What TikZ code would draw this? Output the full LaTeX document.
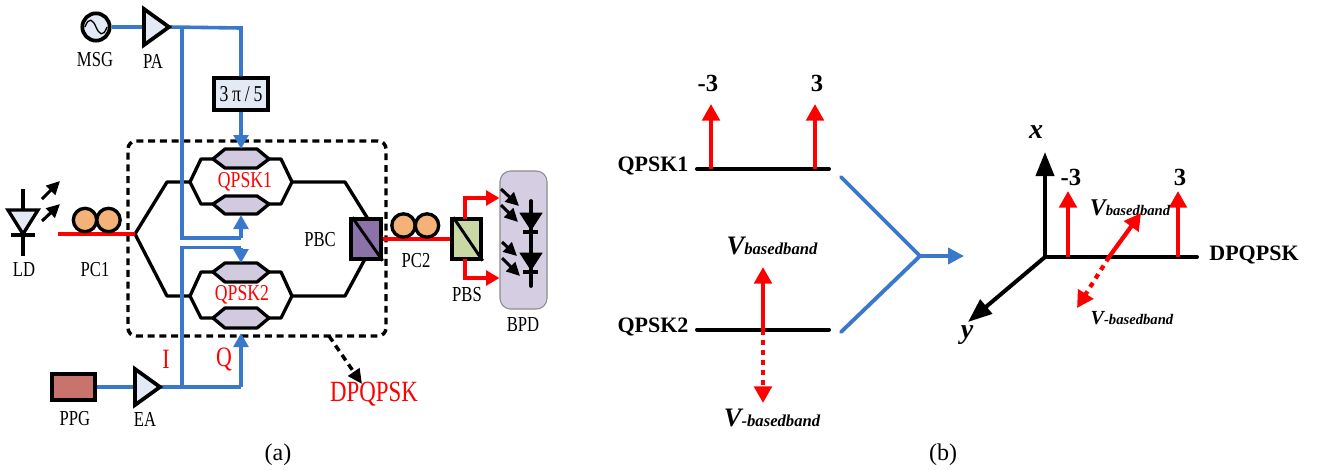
\documentclass[tikz,border=0pt]{standalone}
\usepackage{fontspec}
\setmainfont{Liberation Serif}
\newfontfamily\cnfont[FakeStretch=0.78]{Liberation Serif}
\usetikzlibrary{arrows.meta}
\definecolor{cblue}{HTML}{3A78CC}
\definecolor{cfill}{HTML}{E4EAF5}
\definecolor{cppg}{HTML}{C8736B}
\definecolor{corange}{HTML}{F4B279}
\definecolor{cmzm}{HTML}{D2CBDF}
\definecolor{cpbc}{HTML}{8B72A8}
\definecolor{cpbs}{HTML}{C9D9A6}
\definecolor{cbpd}{HTML}{D5CEE2}
\newcommand{\fs}[1]{\fontsize{#1}{#1}\selectfont}
\newcommand{\vlab}[3]{{\fs{#1}\bfseries\itshape V\fs{#2}#3}}
\tikzset{
  px/.style={x=0.75pt,y=-0.75pt},
  wire/.style={line width=2.5pt,black,line join=round},
  bl/.style={line width=2.7pt,cblue},
  blarrow/.style={bl,-{Triangle[length=10.5pt,width=11pt]}},
  rd/.style={line width=2.9pt,red},
  rdarrow/.style={line width=3.2pt,red,-{Triangle[length=12.5pt,width=13pt]}},
  rdmid/.style={line width=2.9pt,red,-{Triangle[length=10pt,width=11pt]}},
  rddash/.style={rdarrow,dash pattern=on 3.8pt off 3.8pt},
  bkarrow/.style={line width=2.3pt,black,-{Triangle[length=10pt,width=9.5pt]}},
  bkaxis/.style={line width=3pt,black,-{Triangle[length=18pt,width=13.5pt]}},
  boxed/.style={draw=black,line width=2.6pt,inner sep=0pt,line join=miter},
  pol/.style={circle,draw=black,line width=2.5pt,fill=corange,minimum size=17.5pt,inner sep=0pt},
  lab/.style={font=\cnfont\fs{16}\selectfont,black,inner sep=0pt},
  rlab/.style={font=\cnfont\fs{17}\selectfont,red,inner sep=0pt},
  hex/.style={draw=black,line width=2.5pt,fill=cmzm,line join=round},
  tri/.style={draw=black,line width=2.8pt,fill=cfill,line join=miter},
  headtxt/.style={font=\bfseries\fs{16.5}\selectfont,black,inner sep=0pt},
  numtxt/.style={font=\bfseries\fs{18.5}\selectfont,black,inner sep=0pt},
  captxt/.style={font=\fs{18}\selectfont,black,inner sep=0pt},
  free/.style={inner sep=0pt}
}
\begin{document}
\begin{tikzpicture}[px]
\useasboundingbox (0,0) rectangle (1320,469);

% ---------- panel (a): dashed frame
\node[free,draw=black,line width=2.6pt,dash pattern=on 5.2pt off 3.6pt,rounded corners=6pt,
      minimum width=193.5pt,minimum height=146.25pt] (frame) at (257,238.5) {};

% sources
\node[circle,draw=black,line width=2.8pt,fill=cfill,minimum size=20.5pt,inner sep=0pt] (msg) at (96,27) {};
\draw[line width=1pt] (85,27) .. controls (89,16) and (93,20) .. (96,27) .. controls (99,34) and (103,38) .. (107,27);
\coordinate (paL) at (144,27);\coordinate (paT) at (169,27);
\coordinate (eaL) at (135,387);\coordinate (eaT) at (160,387);
\coordinate (j1) at (182,28);\coordinate (j2) at (241,28);
\coordinate (j3) at (182,238);\coordinate (j4) at (241,238);
\coordinate (j5) at (182,387);\coordinate (j6) at (241,387);
\coordinate (j7) at (182,247.5);\coordinate (j8) at (241,247.5);
\coordinate (m1t) at (241,149);\coordinate (m1b) at (241,215);
\coordinate (m2t) at (241,263);\coordinate (m2b) at (241,333);
\node[boxed,fill=cfill,minimum width=40.5pt,minimum height=24pt,font=\cnfont\fs{17}\selectfont] (ps) at (241,94) {3\,π\,/\,5};
\node[boxed,fill=cppg,minimum width=32.25pt,minimum height=19.5pt] (ppg) at (73.5,387) {};

% black waveguides
\coordinate (split) at (135,234);
\coordinate (u1) at (167,182);\coordinate (u2) at (190,182);
\coordinate (l1) at (167,296);\coordinate (l2) at (190,296);
\coordinate (u3) at (292,182);\coordinate (u4) at (345,182);
\coordinate (l3) at (292,296);\coordinate (l4) at (345,296);
\node[boxed,fill=cpbc,minimum width=22.5pt,minimum height=30pt] (pbc) at (366,239) {};
\node[boxed,fill=cpbs,minimum width=21.75pt,minimum height=30pt] (pbs) at (466.5,239) {};
\draw[wire] (split) -- (u1) -- (u2);
\draw[wire] (split) -- (l1) -- (l2);
\draw[wire] (u3) -- (u4) -- (368,219);
\draw[wire] (l3) -- (l4) -- (365,259);
% MZMs
\draw[wire] (u2) -- (201,159) -- (281,159) -- (u3) -- (281,204) -- (201,204) -- cycle;
\draw[hex] (213,159) -- (225,149) -- (257,149) -- (269,159) -- (257,168) -- (225,168) -- cycle;
\draw[hex] (213,204) -- (225,196) -- (257,196) -- (269,204) -- (257,214) -- (225,214) -- cycle;
\draw[wire] (l2) -- (201,272) -- (281,272) -- (l3) -- (281,318) -- (201,318) -- cycle;
\draw[hex] (213,272) -- (225,263) -- (257,263) -- (269,272) -- (257,282) -- (225,282) -- cycle;
\draw[hex] (213,318) -- (225,308) -- (257,308) -- (269,318) -- (257,328) -- (225,328) -- cycle;
\draw[line width=2.2pt] (pbc.north west) ++(3,0) -- (pbc.south east);
\draw[line width=2.2pt] (pbs.north west) ++(3,0) -- (pbs.south east);

% blue electrical
\draw[bl] (msg) -- (paL);
\draw[bl] (paT) -- (j2) -- (ps);
\draw[bl] (j1) -- (j3) -- (j4);
\draw[blarrow] (j4) -- (m1b);
\draw[blarrow] (ps) -- (m1t);
\draw[bl] (ppg) -- (eaL);
\draw[bl] (eaT) -- (j6);
\draw[blarrow] (j6) -- (m2b);
\draw[bl] (j5) -- (j7) -- (j8);
\draw[blarrow] (j8) -- (m2t);
\draw[tri] (144,9) -- (169,27) -- (144,45) -- cycle;
\draw[tri] (135,369) -- (160,387) -- (135,405) -- cycle;

% LD
\coordinate (ldT) at (23,189);\coordinate (ldB) at (23,256);
\draw[line width=2.5pt] (ldT) -- (ldB);
\draw[tri,line width=2.5pt] (8,210) -- (38,210) -- (23,234) -- cycle;
\draw[line width=2.5pt] (11,235) -- (35,235);
\coordinate (a1s) at (42,199);\coordinate (a1e) at (60,181);
\coordinate (a2s) at (42,221);\coordinate (a2e) at (60,204);
\draw[bkarrow] (a1s) -- (a1e);
\draw[bkarrow] (a2s) -- (a2e);

% fibre and PCs
\coordinate (ldout) at (58,234);
\draw[rd] (ldout) -- (split);
\node[pol] (pc1a) at (85,220) {};
\node[pol] (pc1b) at (108.5,220) {};
\draw[rd] (pbc.east) -- (pbs.west);
\node[pol] (pc2a) at (403.5,225.5) {};
\node[pol] (pc2b) at (427,225.5) {};

% BPD
\node[free,draw=black!45,line width=.8pt,fill=cbpd,rounded corners=8pt,minimum width=35.25pt,minimum height=103.5pt] (bpd) at (523.5,240) {};
\coordinate (p1) at (465,198);\coordinate (p2) at (465,278);
\draw[rdmid] (465,219) -- (p1) -- (bpd.west |- p1);
\draw[rdmid] (465,259) -- (p2) -- (bpd.west |- p2);
\draw[line width=2.8pt,line cap=round] (531,201) -- (531,286);
\draw[fill=black,draw=black,line width=.6pt] (520,213) -- (542,213) -- (531,230) -- cycle;
\draw[fill=black,draw=black,line width=.6pt] (520,253) -- (542,253) -- (531,270) -- cycle;
\draw[line width=2.6pt] (523,232) -- (538,232);
\draw[line width=2.6pt] (523,272) -- (538,272);
\draw[bkarrow] (501,189) -- (519,206);
\draw[bkarrow] (501,205) -- (518,222);
\draw[bkarrow] (502,242) -- (517,256);
\draw[bkarrow] (502,258) -- (520,276);

% labels (a)
\node[lab] (tmsg) at (95,60) {MSG};
\node[lab] (tpa) at (153,61) {PA};
\node[lab] (tld) at (24,270) {LD};
\node[lab] (tpc1) at (95,270) {PC1};
\node[lab] (tpbc) at (320,240) {PBC};
\node[lab] (tpc2) at (416,261) {PC2};
\node[lab] (tpbs) at (467,295) {PBS};
\node[lab] (tbpd) at (523,325) {BPD};
\node[lab] (tppg) at (75,419) {PPG};
\node[lab] (tea) at (145,419) {EA};
\node[rlab] (tq1) at (245,182) {QPSK1};
\node[rlab] (tq2) at (242,295) {QPSK2};
\node[rlab,font=\cnfont\fs{21}\selectfont] (ti) at (166,359) {I};
\node[rlab,font=\cnfont\fs{21}\selectfont] (tqq) at (224,359) {Q};
\node[rlab,font=\cnfont\fs{22}\selectfont] (tdp) at (374,394) {DPQPSK};
\coordinate (dpf) at (329,336);\coordinate (dpe) at (362,384);
\draw[bkarrow,line width=2.6pt,dash pattern=on 5pt off 3.6pt,-{Triangle[length=11pt,width=10pt]}] (dpf) -- (dpe);
\node[captxt] (capa) at (278,455) {(a)};

% ---------- panel (b) left
\coordinate (q1l) at (697,169);\coordinate (q1r) at (829,169);
\coordinate (q2l) at (697,329.5);\coordinate (q2r) at (829,329.5);
\draw[line width=3pt,line cap=round] (q1l) -- (q1r);
\draw[line width=3pt,line cap=round] (q2l) -- (q2r);
\coordinate (r1b) at (711,169);\coordinate (r1t) at (711,104);
\coordinate (r2b) at (815,169);\coordinate (r2t) at (815,104);
\draw[rdarrow] (r1b) -- (r1t);
\draw[rdarrow] (r2b) -- (r2t);
\coordinate (vb) at (763,329.5);\coordinate (vt) at (763,267);\coordinate (vd) at (763,403);
\draw[rdarrow] (vb) -- (vt);
\draw[rddash] (vb) -- (vd);
\node[headtxt] (tq1b) at (653,166) {QPSK1};
\node[headtxt] (tq2b) at (653,327) {QPSK2};
\node[numtxt] (tm3) at (708,83) {-3};
\node[numtxt] (tp3) at (817,83) {3};
\node[free] (tvb) at (772,246) {\vlab{20}{12.5}{basedband}};
\node[free] (tvm) at (772,418) {\vlab{20}{12.5}{-basedband}};
% merge
\coordinate (ma) at (841,177);\coordinate (mb) at (841,332);\coordinate (mj) at (920,256);\coordinate (me) at (964,256);
\draw[bl,line width=2.9pt,line cap=round,line join=round] (ma) -- (mj) -- (mb);
\draw[bl,line width=2.9pt,-{Triangle[length=12pt,width=12pt]}] (mj) -- (me);

% ---------- panel (b) right
\coordinate (o) at (1045,257);\coordinate (xe) at (1045,152);\coordinate (ze) at (1197,257);\coordinate (ye) at (968,322);
\draw[bkaxis] (o) -- (xe);
\draw[line width=3pt,line cap=round] (o) -- (ze);
\draw[bkaxis] (o) -- (ye);
\coordinate (s1b) at (1068,257);\coordinate (s1t) at (1068,191);
\coordinate (s2b) at (1178,257);\coordinate (s2t) at (1178,191);
\coordinate (dc) at (1109,257);\coordinate (du) at (1141,213);\coordinate (dd) at (1077,308);
\draw[rdarrow] (s1b) -- (s1t);
\draw[rdarrow] (s2b) -- (s2t);
\draw[rddash] (dc) -- (dd);
\node[free] (tvb2) at (1130,208) {\vlab{18}{11}{basedband}};
\draw[rdarrow] (dc) -- (du);
\node[free] (tvm2) at (1132,318) {\vlab{15}{11}{-basedband}};
\node[numtxt,font=\bfseries\itshape\fs{21}\selectfont] (tx) at (1036,132) {x};
\node[numtxt,font=\bfseries\itshape\fs{21}\selectfont] (ty) at (967,335) {y};
\node[numtxt] (tm3b) at (1071,177) {-3};
\node[numtxt] (tp3b) at (1180,177) {3};
\node[headtxt] (tdpb) at (1254,255) {DPQPSK};
\node[captxt] (capb) at (943,455) {(b)};
\end{tikzpicture}
\end{document}
